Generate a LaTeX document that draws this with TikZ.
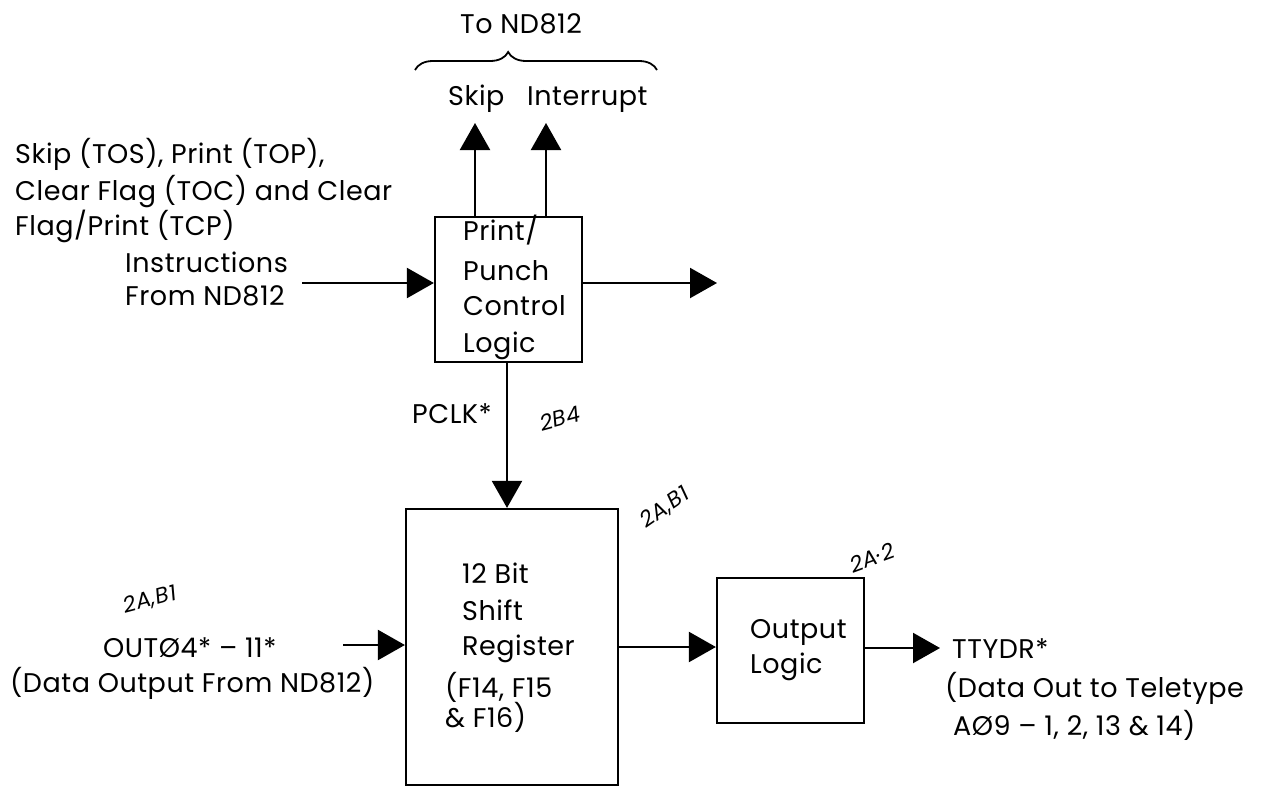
\documentclass[tikz,border=0pt]{standalone}
\usepackage{fontspec}
\setmainfont{Poppins}[LetterSpace=2]
\usetikzlibrary{arrows.meta,decorations.pathreplacing}
\begin{document}
\begin{tikzpicture}[x=1pt,y=-1pt,
  lbl/.style={anchor=base west, inner sep=0pt, font=\fontsize{27}{30}\selectfont},
  blk/.style={draw, line width=2.2pt, inner sep=0pt},
  conn/.style={line width=2.2pt, -{Triangle[length=27pt,width=30pt]}},
  hand/.style={inner sep=0pt, font=\fontsize{22}{24}\selectfont\rmfamily\itshape}]
\useasboundingbox[fill=white] (0,0) rectangle (1261,787);
% blocks
\node[blk, minimum width=147pt, minimum height=145pt] (ctrl) at (508.5,289.5) {};
\node[blk, minimum width=212pt, minimum height=276pt] (shift) at (512,647) {};
\node[blk, minimum width=147pt, minimum height=145pt] (out) at (790.5,650.5) {};
% brace
\coordinate (brL) at (415,70);
\coordinate (brR) at (657,70);
\draw[line width=1.8pt, decorate, decoration={brace, amplitude=18pt, aspect=0.385}] (brL) -- (brR);
% texts
\node[lbl] (tond) at (460,33) {To ND812};
\node[lbl] (skipl) at (448,105) {Skip};
\node[lbl] (intl) at (527,105) {Interrupt};
\node[lbl] (l1) at (15,163) {Skip (TOS), Print (TOP),};
\node[lbl] (l2) at (15,200) {Clear Flag (TOC) and Clear};
\node[lbl] (l3) at (15,235) {Flag/Print (TCP)};
\node[lbl] (l4) at (125,272) {Instructions};
\node[lbl] (l5) at (125,305) {From ND812};
\node[lbl] (c1) at (463,240) {Print/};
\node[lbl] (c2) at (463,280) {Punch};
\node[lbl] (c3) at (463,315) {Control};
\node[lbl] (c4) at (463,352) {Logic};
\node[lbl] (pclk) at (412,423) {PCLK*};
\node[lbl] (s1) at (462,583) {12 Bit};
\node[lbl] (s2) at (462,620) {Shift};
\node[lbl] (s3) at (462,655) {Register};
\node[lbl] (s4) at (445,697) {(F14, F15};
\node[lbl] (s5) at (445,727) {\& F16)};
\node[lbl] (o1) at (750,638) {Output};
\node[lbl] (o2) at (750,673) {Logic};
\node[lbl] (d1) at (103,657) {OUTØ4* – 11*};
\node[lbl] (d2) at (10,692) {(Data Output From ND812)};
\node[lbl] (t1) at (952,658) {TTYDR*};
\node[lbl] (t2) at (945,697) {(Data Out to Teletype};
\node[lbl] (t3) at (953,735) {AØ9 – 1, 2, 13 \& 14)};
% handwritten notes
\node[hand, rotate=15] (h1) at (560,418) {2B4};
\node[hand, rotate=35] (h2) at (665,508) {2A,B1};
\node[hand, rotate=20] (h3) at (872,558) {2A·2};
\node[hand, rotate=15] (h4) at (150,600) {2A,B1};
% connectors
\coordinate (inA) at (302,283);
\draw[conn] (inA) -- (inA -| ctrl.west);
\coordinate (skipT) at (475,123);
\coordinate (intT) at (546,123);
\draw[conn] (skipT |- ctrl.north) -- (skipT);
\draw[conn] (intT |- ctrl.north) -- (intT);
\coordinate (ctrlOut) at (717,283);
\draw[conn] (ctrlOut -| ctrl.east) -- (ctrlOut);
\coordinate (pclkx) at (507,0);
\draw[conn] (pclkx |- ctrl.south) -- (pclkx |- shift.north);
\coordinate (dIn) at (343,645);
\draw[conn] (dIn) -- (dIn -| shift.west);
\coordinate (so) at (0,647);
\draw[conn] (so -| shift.east) -- (so -| out.west);
\coordinate (tty) at (940,648);
\draw[conn] (tty -| out.east) -- (tty);
\end{tikzpicture}
\end{document}
